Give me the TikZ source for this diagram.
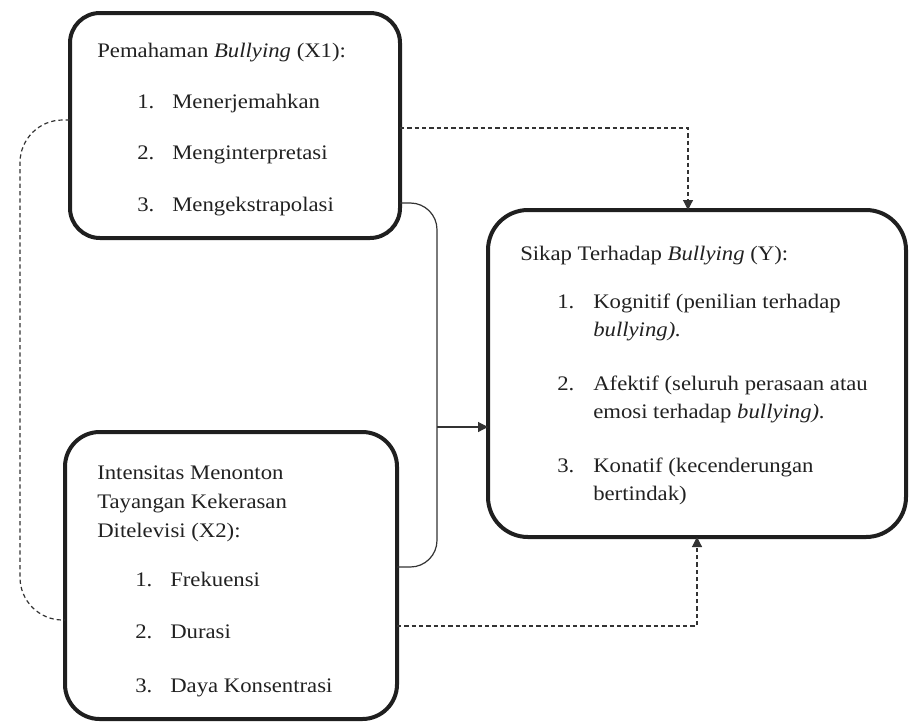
\documentclass[tikz,border=0pt]{standalone}
\usepackage{fontspec}
\setmainfont{Liberation Serif}[FakeStretch=1.1]
\usetikzlibrary{arrows.meta}
\begin{document}
\begin{tikzpicture}[x=0.75pt,y=-0.75pt,
  box/.style={draw=black!88, line width=3pt, anchor=north west, inner sep=0pt, outer sep=0pt},
  txt/.style={anchor=base west, inner sep=0pt, font=\fontsize{15.5pt}{18pt}\selectfont, text=black!87},
  conn/.style={draw=black!80, line width=0.9pt},
  dashedline/.style={conn, dash pattern=on 3.2pt off 2.3pt},
  tip/.style={-{Triangle[length=7.5pt,width=7.5pt]}}
]
\useasboundingbox (0,0) rectangle (910,722);

% boxes
\node[box, rounded corners=22.5pt, minimum width=247.5pt, minimum height=168.75pt] (x1) at (70,13) {};
\node[box, rounded corners=30pt, minimum width=313.5pt, minimum height=245.25pt] (y) at (488,210) {};
\node[box, rounded corners=26pt, minimum width=249pt, minimum height=215.25pt] (x2) at (65,432) {};

% X1 text
\node[txt] (x1t) at (97,57) {Pemahaman \textit{Bullying} (X1):};
\node[txt] (x1n1) at (137,108) {1.};
\node[txt] (x1i1) at (172,108) {Menerjemahkan};
\node[txt] (x1n2) at (137,159) {2.};
\node[txt] (x1i2) at (172,159) {Menginterpretasi};
\node[txt] (x1n3) at (137,211) {3.};
\node[txt] (x1i3) at (172,211) {Mengekstrapolasi};

% Y text
\node[txt] (yt) at (520,260) {Sikap Terhadap \textit{Bullying} (Y):};
\node[txt] (yn1) at (557,308) {1.};
\node[txt] (yi1a) at (593,308) {Kognitif (penilian terhadap};
\node[txt] (yi1b) at (593,336) {\textit{bullying).}};
\node[txt] (yn2) at (557,390) {2.};
\node[txt] (yi2a) at (593,390) {Afektif (seluruh perasaan atau};
\node[txt] (yi2b) at (593,418) {emosi terhadap \textit{bullying).}};
\node[txt] (yn3) at (557,472) {3.};
\node[txt] (yi3a) at (593,472) {Konatif (kecenderungan};
\node[txt] (yi3b) at (593,500) {bertindak)};

% X2 text
\node[txt] (x2ta) at (97,479) {Intensitas Menonton};
\node[txt] (x2tb) at (97,508) {Tayangan Kekerasan};
\node[txt] (x2tc) at (97,537) {Ditelevisi (X2):};
\node[txt] (x2n1) at (135,586) {1.};
\node[txt] (x2i1) at (170,586) {Frekuensi};
\node[txt] (x2n2) at (135,638) {2.};
\node[txt] (x2i2) at (170,638) {Durasi};
\node[txt] (x2n3) at (135,692) {3.};
\node[txt] (x2i3) at (170,692) {Daya Konsentrasi};

% connectors
\coordinate (a1) at (20,120);
\coordinate (a2) at (20,620);
\draw[dashedline, rounded corners=32pt] (x1.west |- a1) -- (a1) -- (a2) -- (x2.west |- a2);

\coordinate (b1) at (688,128);
\draw[dashedline, tip] (x1.east |- b1) -- (b1) -- (b1 |- y.north);

\coordinate (c1) at (437,203);
\coordinate (c2) at (437,567);
\draw[conn, rounded corners=20pt] (x1.east |- c1) -- (c1) -- (c2) -- (x2.east |- c2);
\coordinate (c3) at (437,427);
\draw[conn, tip] (c3) -- (y.west |- c3);

\coordinate (d1) at (697,626);
\draw[dashedline, tip] (x2.east |- d1) -- (d1) -- (d1 |- y.south);
\end{tikzpicture}
\end{document}
